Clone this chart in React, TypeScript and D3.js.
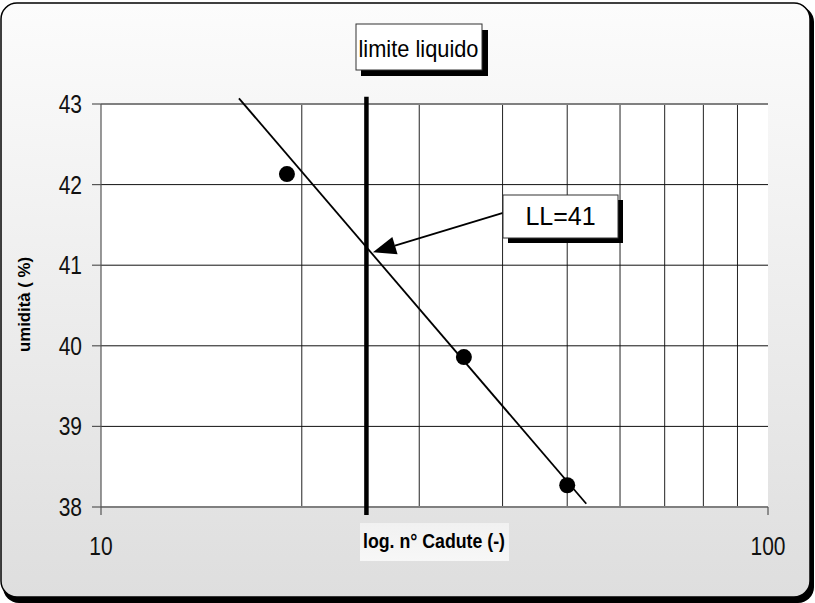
import React from "react";
import * as d3 from "d3";

const xCadute = [19, 35, 50];
const yUmidita = [42.13, 39.86, 38.27];
const trendX = [16.1, 53.4];
const trendY = [43.07, 38.04];
const llX = 25;
const llSpanY = [43.09, 37.9];
const arrowFrom = [40.06, 41.65];
const arrowTo = [25.57, 41.16];
const yTicks = [38, 39, 40, 41, 42, 43];
const xGrid = [20, 30, 40, 50, 60, 70, 80, 90];
const xLabels = [10, 100];
const title = "limite liquido";
const xTitle = "log. n° Cadute (-)";
const yTitle = "umidità ( %)";
const llLabel = "LL=41";

const W = 815;
const H = 603;
const L = 101, R = 768, T = 104, B = 507;
const SANS = "'Liberation Sans', Arial, sans-serif";
const NX = 0.84;

function NarrowText(props: { x: number; y: number; anchor: string; size: number; weight?: string; children: React.ReactNode }) {
  return (
    <text
      transform={`translate(${props.x},${props.y}) scale(${NX},1)`}
      textAnchor={props.anchor}
      fontFamily={SANS}
      fontSize={props.size}
      fontWeight={props.weight || "normal"}
      fill="#111"
    >
      {props.children}
    </text>
  );
}

export default function App() {
  const x = d3.scaleLog().domain([10, 100]).range([L, R]);
  const y = d3.scaleLinear().domain([38, 43]).range([B, T]);
  const trend = d3.line<number>()
    .x((_, i) => x(trendX[i]))
    .y((d) => y(d));

  const ax1 = x(arrowFrom[0]), ay1 = y(arrowFrom[1]);
  const ax2 = x(arrowTo[0]), ay2 = y(arrowTo[1]);
  const ang = Math.atan2(ay2 - ay1, ax2 - ax1);
  const hl = 23, hw = 9;
  const bx = ax2 - hl * Math.cos(ang), by = ay2 - hl * Math.sin(ang);
  const head = [
    [ax2, ay2],
    [bx + hw * Math.sin(ang), by - hw * Math.cos(ang)],
    [bx - hw * Math.sin(ang), by + hw * Math.cos(ang)],
  ];

  return (
    <svg width={W} height={H} style={{ position: "absolute", left: 0, top: 0 }}>
      <defs>
        <linearGradient id="bg" x1="0" y1="0" x2="0" y2="1">
          <stop offset="0" stopColor="#fcfcfc" />
          <stop offset="1" stopColor="#dedede" />
        </linearGradient>
        <linearGradient id="xt" x1="0" y1="0" x2="0" y2="1">
          <stop offset="0" stopColor="#f1f1f1" />
          <stop offset="1" stopColor="#f7f7f7" />
        </linearGradient>
      </defs>
      <rect x={3} y={6} width={811} height={597} rx={16} fill="#000" />
      <rect x={1} y={3} width={809} height={594} rx={16} fill="url(#bg)" stroke="#000" strokeWidth={1.5} />

      {/* plot area */}
      <rect x={L} y={T} width={R - L} height={B - T} fill="#fff" />
      {xGrid.map((v) => (
        <line key={"gx" + v} x1={x(v)} x2={x(v)} y1={T} y2={B} stroke="#222" strokeWidth={1} />
      ))}
      {yTicks.filter((v) => v !== 38 && v !== 43).map((v) => (
        <line key={"gy" + v} x1={L} x2={R} y1={y(v)} y2={y(v)} stroke="#111" strokeWidth={1} />
      ))}
      <line x1={L} x2={R} y1={y(43)} y2={y(43)} stroke="#808080" strokeWidth={2} />
      <line x1={L} x2={R} y1={y(38)} y2={y(38)} stroke="#808080" strokeWidth={2} />
      <line x1={L} x2={L} y1={T} y2={B + 8} stroke="#555" strokeWidth={1.2} />
      <line x1={R} x2={R} y1={B} y2={B + 8} stroke="#555" strokeWidth={1.2} />
      {yTicks.map((v) => (
        <g key={"yt" + v}>
          <line x1={L - 9} x2={L} y1={y(v)} y2={y(v)} stroke="#555" strokeWidth={1.2} />
          <NarrowText x={82} y={y(v) + 9} anchor="end" size={25}>{v}</NarrowText>
        </g>
      ))}
      {xLabels.map((v) => (
        <NarrowText key={"xl" + v} x={x(v)} y={555} anchor="middle" size={25}>{v}</NarrowText>
      ))}

      {/* trend line */}
      <path d={trend(trendY) || ""} stroke="#000" strokeWidth={1.8} fill="none" />
      {/* LL vertical line */}
      <line x1={x(llX)} x2={x(llX)} y1={y(llSpanY[0])} y2={y(llSpanY[1])} stroke="#000" strokeWidth={4.5} />
      {xCadute.map((v, i) => (
        <circle key={"p" + i} cx={x(v)} cy={y(yUmidita[i])} r={8} fill="#000" />
      ))}

      {/* arrow */}
      <line x1={ax1} y1={ay1} x2={bx} y2={by} stroke="#000" strokeWidth={1.8} />
      <polygon points={head.map((p) => p.join(",")).join(" ")} fill="#000" />

      {/* LL box */}
      <rect x={508} y={200} width={115} height={43} fill="#000" />
      <rect x={503} y={195} width={115} height={43} fill="#fff" stroke="#333" strokeWidth={1} />
      <text x={560.5} y={225} textAnchor="middle" fontFamily={SANS} fontSize={25} fill="#000">{llLabel}</text>

      {/* title box */}
      <rect x={361} y={30} width={127} height={46} fill="#000" />
      <rect x={356} y={24} width={126} height={46} fill="#fff" stroke="#333" strokeWidth={1} />
      <text x={358.5} y={57} fontFamily={SANS} fontSize={24} textLength={120} lengthAdjust="spacingAndGlyphs" fill="#000">{title}</text>

      {/* x title */}
      <rect x={360} y={523} width={149} height={38} fill="url(#xt)" />
      <text x={363} y={548} fontFamily={SANS} fontWeight="bold" fontSize={20} textLength={142} lengthAdjust="spacingAndGlyphs" fill="#000">{xTitle}</text>

      {/* y title */}
      <text transform="translate(30,352) rotate(-90)" fontFamily={SANS} fontWeight="bold" fontSize={17} textLength={95} lengthAdjust="spacingAndGlyphs" fill="#000">{yTitle}</text>
    </svg>
  );
}
